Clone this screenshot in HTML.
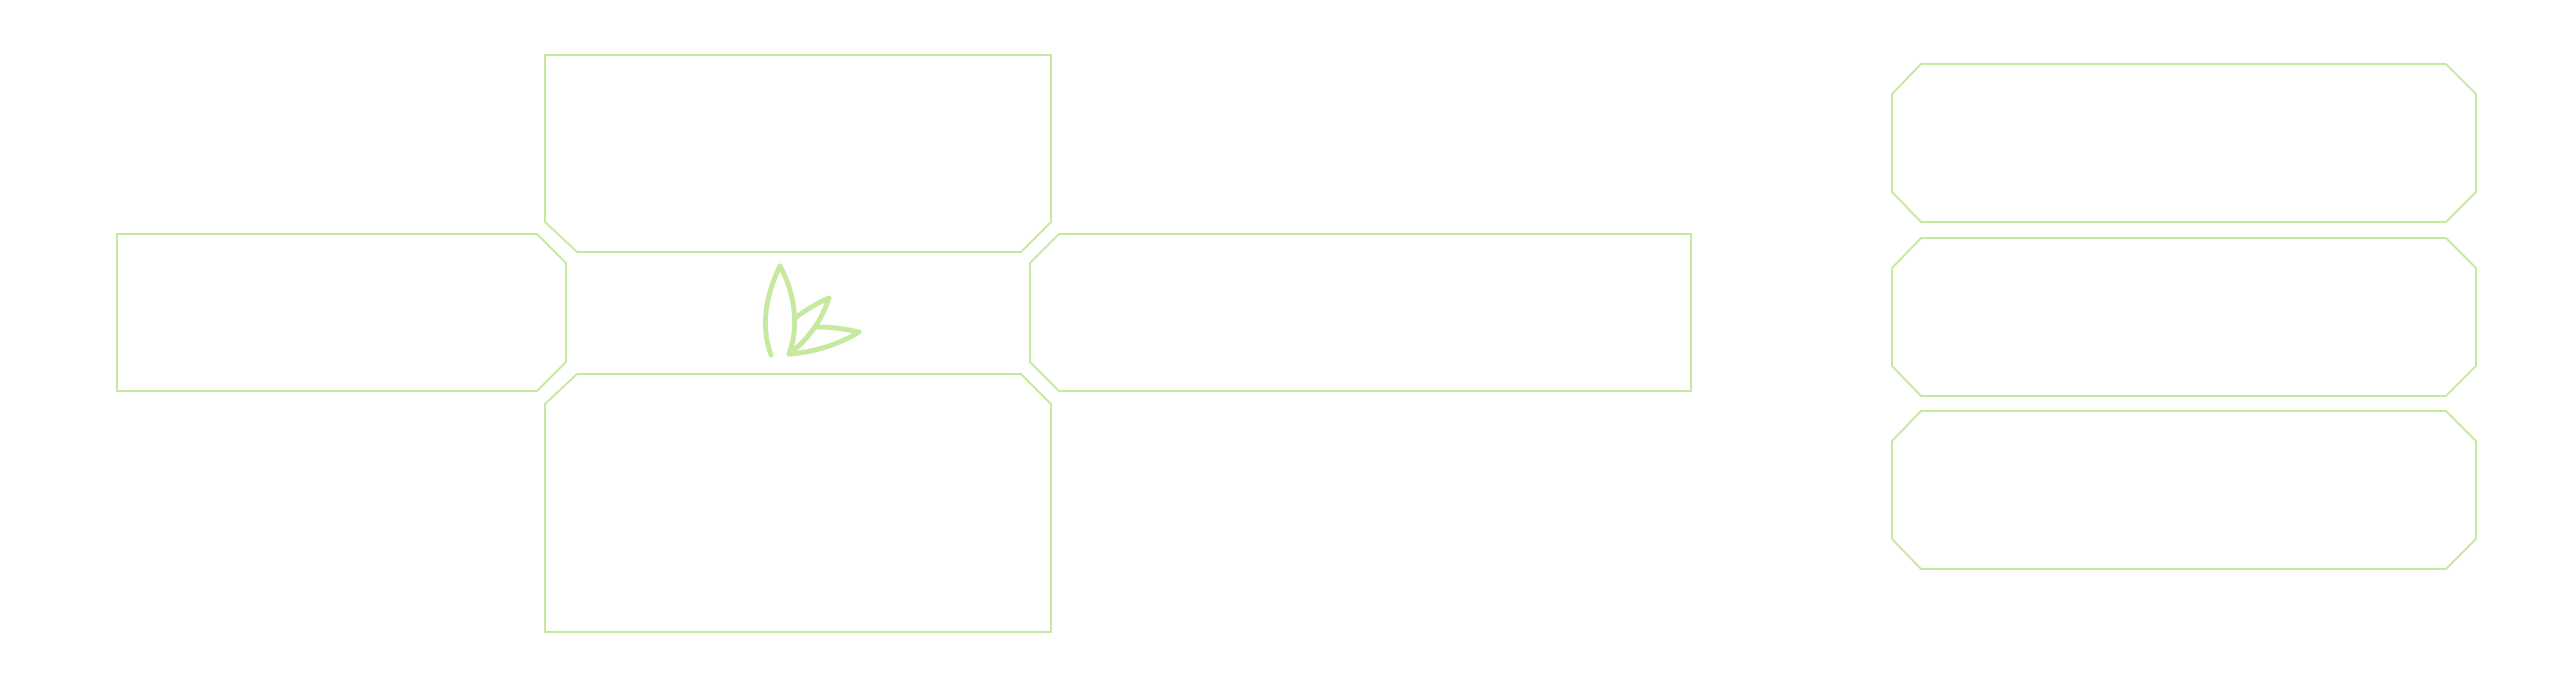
<!DOCTYPE html>
<html><head><style>html,body{margin:0;padding:0;background:#fff;}svg{display:block}</style></head>
<body>
<svg width="2560" height="687" viewBox="0 0 2560 687" xmlns="http://www.w3.org/2000/svg">
<g fill="none" stroke="#c6e89f" stroke-width="2">
<polygon points="545,55 1051,55 1051,222 1021,252 577,252 545,222"/>
<polygon points="117,234 537,234 566,263 566,362 537,391 117,391"/>
<polygon points="1059,234 1691,234 1691,391 1059,391 1030,362 1030,263"/>
<polygon points="577,374 1021,374 1051,404 1051,632 545,632 545,404"/>
<polygon points="1921,64 2446,64 2476,94 2476,192 2446,222 1921,222 1892,192 1892,94"/>
<polygon points="1921,238 2446,238 2476,268 2476,366 2446,396 1921,396 1892,366 1892,268"/>
<polygon points="1921,411 2446,411 2476,441 2476,539 2446,569 1921,569 1892,539 1892,441"/>
</g>
<g fill="none" stroke="#c6e89f" stroke-width="5" stroke-linecap="round" stroke-linejoin="round">
<path d="M771,355 C760,325 766,295 780,266 C794,292 800,325 789,354"/>
<path d="M795,318 C806,310 817,303 829,298 C822,320 808,340 790,353"/>
<path d="M818,327 C832,327 846,329 859,332 C840,344 815,352 790,354"/>
</g>
</svg>
</body></html>
